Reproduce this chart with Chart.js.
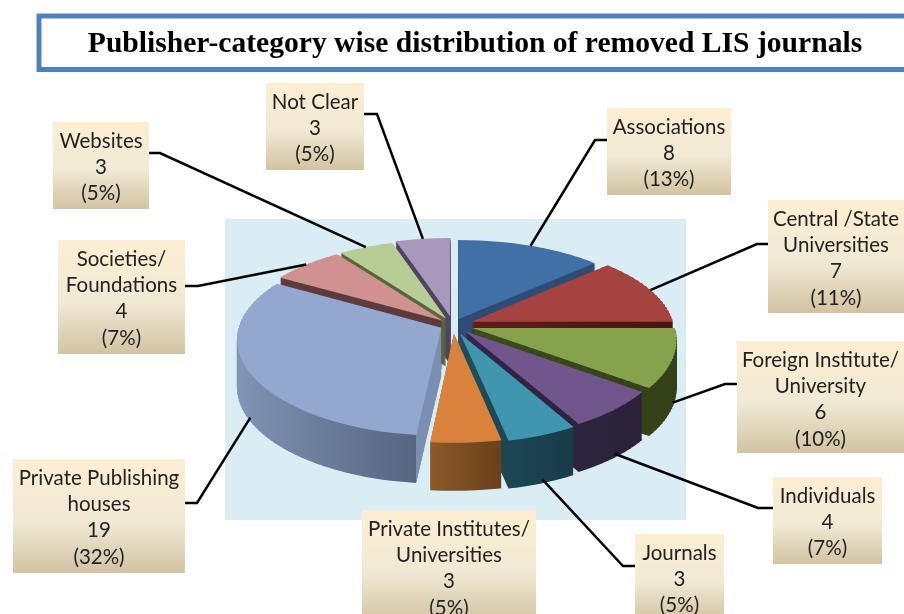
<!DOCTYPE html>
<html>
<head>
<meta charset="utf-8">
<style>
  html, body { margin: 0; padding: 0; background: #fff; }
  canvas { display: block; }
</style>
<script src="https://cdn.jsdelivr.net/npm/chart.js@4/dist/chart.umd.js"></script>
</head>
<body>
<canvas id="pie" width="904" height="614"></canvas>
<script>
var titleText = 'Publisher-category wise distribution of removed LIS journals'
var categories = ['Associations', 'Central /State Universities', 'Foreign Institute/ University', 'Individuals', 'Journals',
  'Private Institutes/ Universities', 'Private Publishing houses', 'Societies/ Foundations', 'Websites', 'Not Clear']
var values = [8, 7, 6, 4, 3, 3, 19, 4, 3, 3]
var percents = [13, 11, 10, 7, 5, 5, 32, 7, 5, 5]
var labelLines = [['Associations'], ['Central /State', 'Universities'], ['Foreign Institute/', 'University'], ['Individuals'], ['Journals'],
  ['Private Institutes/', 'Universities'], ['Private Publishing', 'houses'], ['Societies/', 'Foundations'], ['Websites'], ['Not Clear']]

var topColors = ['#4170a6', '#a44340', '#86a24c', '#71568c', '#3f96ae', '#d8823b', '#92a8cf', '#d09291', '#b8cc95', '#a899bc']
var rimLeft = ['#2e4c74', '#5a1f1c', '#3e4c1e', '#30264a', '#1f4f5c', '#8b5a28', '#8497b8', '#5e3b3b', '#56673a', '#4e4560']
var rimRight = ['#2e4c74', '#4a1512', '#333f16', '#2b2238', '#1a3a48', '#6a3f1a', '#566580', '#5e3b3b', '#56673a', '#4e4560']
var faceColors = [null, null, null, null, null, null, '#7b8fb2', null, null, null]

// how far each slice is pulled out of the pie, in px before flattening
var gaps = [14, 20, 20, 18, 20, 18, 13, 14, 15, 19]
var radius = 202
var depth = 48
// perspective: vertical squash and horizontal scale both grow towards the viewer
var squashMid = 0.465
var squashSlope = 0.065
var widen = 0.12
var stripH = 3

// callout boxes [x, y, w, h], leader [stub x, stub y, elbow x], null for no leader
var boxes = [[607, 108, 124, 87], [768, 200, 136, 113], [737, 341, 167, 112], [773, 477, 109, 87], [635, 534, 89, 87],
  [362, 510, 174, 113], [13, 459, 172, 114], [58, 240, 127, 114], [53, 122, 96, 87], [266, 83, 98, 87]]
var leaders = [[607, 140, 595], [768, 244, 757], [737, 384, 725], [773, 508, 758], [635, 566, 623],
  null, [185, 503, 197], [185, 286, 198], [149, 153, 160], [364, 114, 377]]

function midAngle(arc) {
  return (arc.startAngle + arc.endAngle) / 2
}

// flat pie coordinate v (distance towards the viewer) to screen offset from the centre
function project(v) {
  return v * (squashMid + squashSlope * v / radius)
}

function unproject(dy) {
  var a = squashSlope / radius
  return (-squashMid + Math.sqrt(squashMid * squashMid + 4 * a * dy)) / (2 * a)
}

function scaleX(v) {
  return 1 + widen * v / radius
}

function sliceRange(arc, i) {
  var mid = midAngle(arc)
  var shift = Math.sin(mid) * gaps[i]
  var lo = shift
  var hi = shift
  for (var s = 0; s <= 24; s++) {
    var a = arc.startAngle + (arc.endAngle - arc.startAngle) * s / 24
    var v = shift + Math.sin(a) * arc.outerRadius
    lo = Math.min(lo, v)
    hi = Math.max(hi, v)
  }
  return [lo, hi]
}

// the flat arc is redrawn through thin horizontal strips, each with its own affine map
function drawSlice(ctx, arc, i, drop, fill) {
  var saved = arc.options
  var mid = midAngle(arc)
  var range = sliceRange(arc, i)
  var yTop = Math.floor(project(range[0]))
  var yBottom = Math.ceil(project(range[1]))
  arc.options = Object.assign({}, saved, {backgroundColor: fill})
  for (var y = yTop; y < yBottom; y += stripH) {
    var v0 = unproject(y)
    var v1 = unproject(y + stripH)
    ctx.save()
    ctx.beginPath()
    ctx.rect(0, arc.y + y + drop, 904, stripH)
    ctx.clip()
    ctx.translate(arc.x, arc.y + y + drop)
    ctx.scale(scaleX((v0 + v1) / 2), stripH / (v1 - v0))
    ctx.translate(-arc.x, -(arc.y + v0))
    ctx.translate(Math.cos(mid) * gaps[i], Math.sin(mid) * gaps[i])
    arc.draw(ctx)
    ctx.restore()
  }
  arc.options = saved
}

// rim point of a slice on screen, used as the leader target
function rimPoint(arc, i) {
  var mid = midAngle(arc)
  var v = Math.sin(mid) * (arc.outerRadius + gaps[i])
  var x = Math.cos(mid) * (arc.outerRadius + gaps[i]) * scaleX(v)
  var y = arc.y + project(v)
  if (v > 0) y += depth * 0.92
  return {x: arc.x + x, y: y}
}

// gradient runs in the slice's own coordinates, before its gap is applied
function rimGradient(ctx, arc, i) {
  var xs = [arc.x]
  for (var s = 0; s <= 40; s++) {
    var a = arc.startAngle + (arc.endAngle - arc.startAngle) * s / 40
    xs.push(arc.x + Math.cos(a) * arc.outerRadius)
  }
  var x0 = Math.min.apply(null, xs)
  var x1 = Math.max.apply(null, xs)
  var g = ctx.createLinearGradient(x0, 0, x1, 0)
  g.addColorStop(0, rimLeft[i])
  if (faceColors[i]) {
    var corner = (arc.x + Math.cos(arc.startAngle) * arc.outerRadius - x0) / (x1 - x0)
    g.addColorStop(corner, rimRight[i])
    g.addColorStop(corner, faceColors[i])
    g.addColorStop(1, faceColors[i])
  } else {
    g.addColorStop(1, rimRight[i])
  }
  return g
}

function drawBox(ctx, b, i) {
  var g = ctx.createLinearGradient(0, b[1], 0, b[1] + b[3])
  g.addColorStop(0, '#fdeed2')
  g.addColorStop(0.55, '#f0e9d4')
  g.addColorStop(1, '#d2c3a2')
  ctx.fillStyle = g
  ctx.fillRect(b[0], b[1], b[2], b[3])
  var lines = labelLines[i].concat([String(values[i]), '(' + percents[i] + '%)'])
  ctx.fillStyle = '#222'
  ctx.font = '20.5px Lato'
  ctx.textAlign = 'center'
  ctx.textBaseline = 'middle'
  lines.forEach(function (t, n) {
    ctx.fillText(t, b[0] + b[2] / 2, b[1] + 19 + n * 26.3)
  })
}

var pie3d = {
  id: 'pie3d',
  beforeDatasetsDraw: function (chart) {
    var ctx = chart.ctx
    var arcs = chart.getDatasetMeta(0).data

    // title panel
    ctx.strokeStyle = '#4f81bd'
    ctx.lineWidth = 5
    ctx.strokeRect(39, 16, 880, 53.5)
    ctx.fillStyle = '#000'
    ctx.font = 'bold 29.6px "Liberation Serif"'
    ctx.textAlign = 'center'
    ctx.textBaseline = 'middle'
    ctx.fillText(titleText, 475, 44)

    // plot backdrop
    ctx.fillStyle = '#dbedf4'
    ctx.fillRect(225, 219, 461, 301)

    // back slices first so the front ones cover them
    var order = arcs.map(function (a, i) { return i })
    order.sort(function (a, b) { return Math.sin(midAngle(arcs[a])) - Math.sin(midAngle(arcs[b])) })
    order.forEach(function (i) {
      var rim = rimGradient(ctx, arcs[i], i)
      for (var d = depth; d >= 1; d--) drawSlice(ctx, arcs[i], i, d, rim)
      drawSlice(ctx, arcs[i], i, 0, topColors[i])
    })

    // leaders and callouts
    ctx.strokeStyle = '#000'
    ctx.lineWidth = 2.5
    ctx.lineJoin = 'miter'
    leaders.forEach(function (l, i) {
      if (!l) return
      var p = rimPoint(arcs[i], i)
      ctx.beginPath()
      ctx.moveTo(l[0], l[1])
      ctx.lineTo(l[2], l[1])
      ctx.lineTo(p.x, p.y)
      ctx.stroke()
    })
    boxes.forEach(function (b, i) { drawBox(ctx, b, i) })
    return false
  }
}

new Chart(document.getElementById('pie').getContext('2d'), {
  type: 'pie',
  data: {
    labels: categories,
    datasets: [{data: values, backgroundColor: topColors, borderWidth: 0}]
  },
  options: {
    responsive: false,
    animation: false,
    radius: radius,
    layout: {padding: {top: 36, left: 2}},
    events: [],
    plugins: {legend: {display: false}, tooltip: {enabled: false}}
  },
  plugins: [pie3d]
})
</script>
</body>
</html>
